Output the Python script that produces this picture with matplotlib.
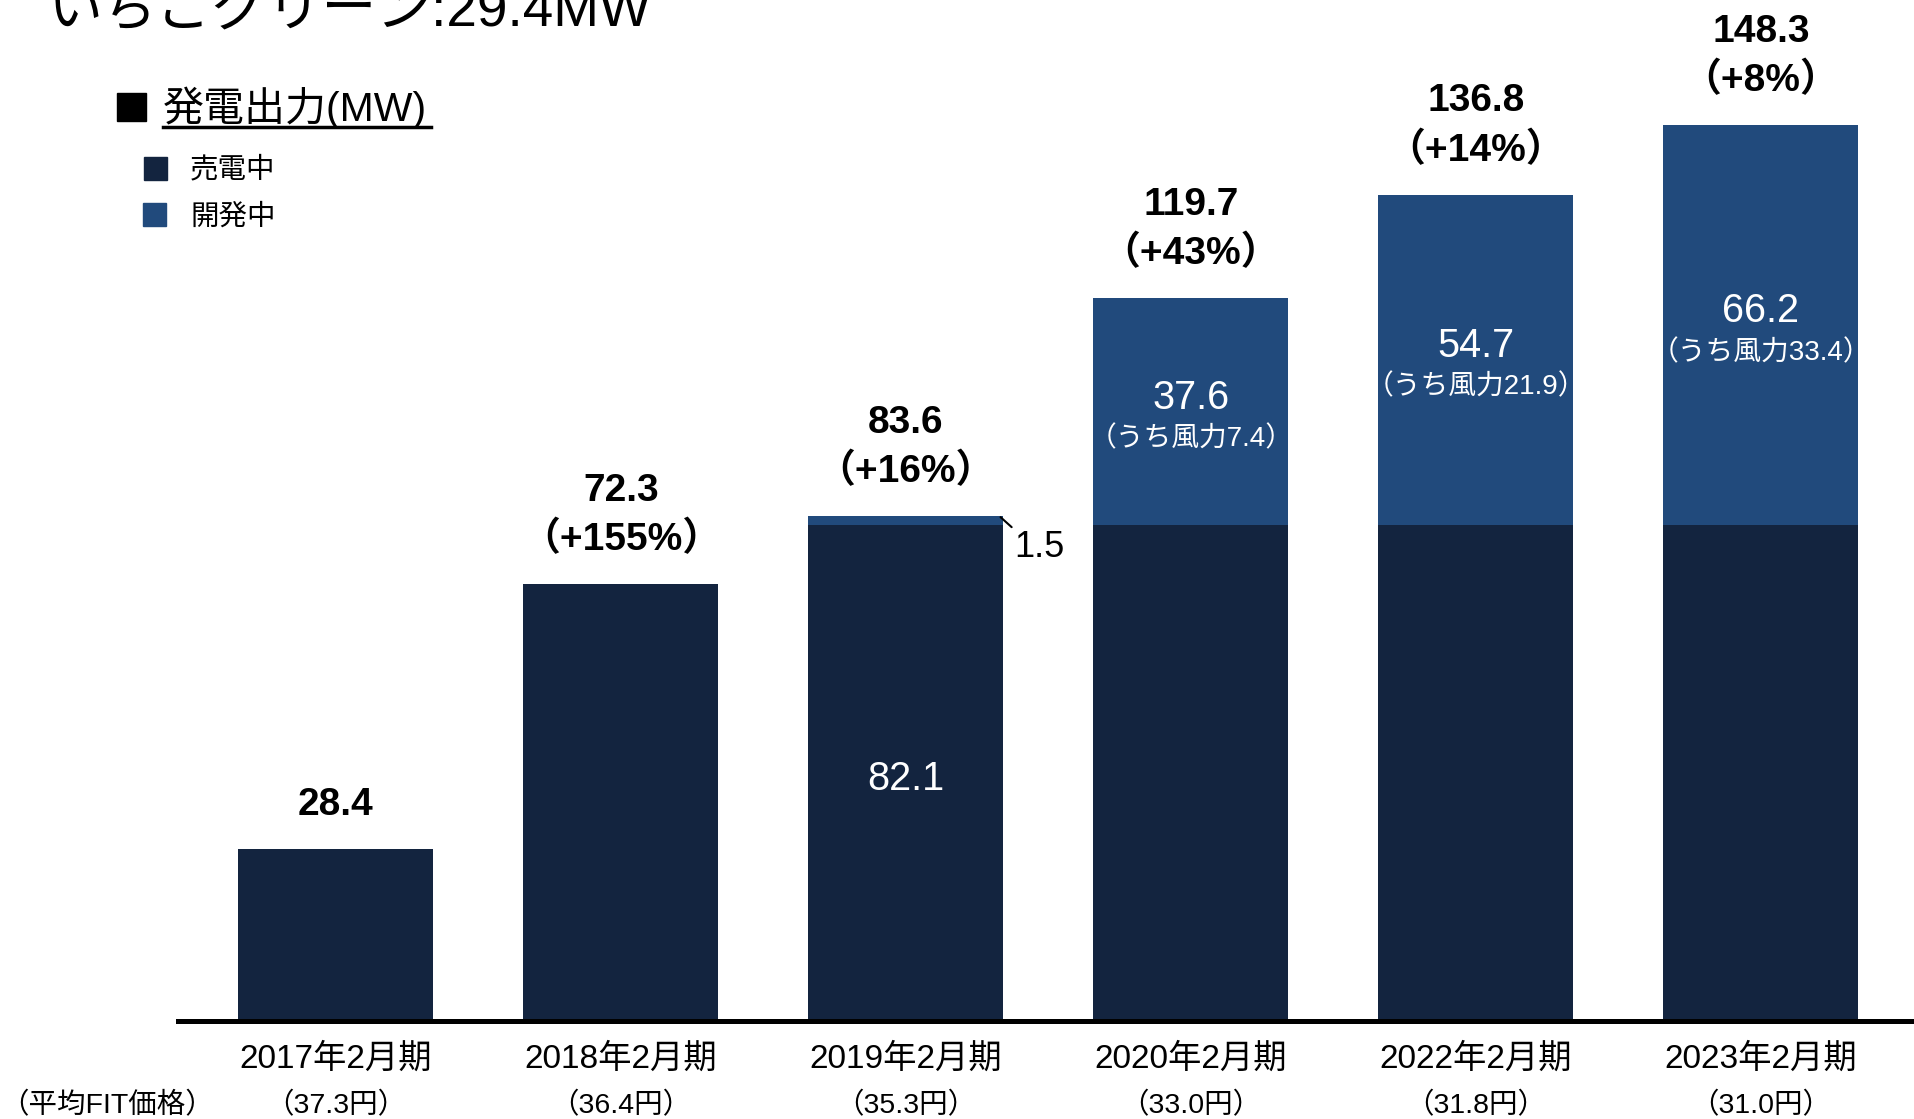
import numpy as np
import matplotlib
matplotlib.use("Agg")
import matplotlib.pyplot as plt
from matplotlib.patches import Rectangle
from matplotlib.lines import Line2D
from matplotlib.transforms import blended_transform_factory

plt.rcParams['font.family'] = ['Liberation Sans', 'Noto Sans CJK JP', 'DejaVu Sans']

# data
years = ["2017年2月期", "2018年2月期", "2019年2月期", "2020年2月期", "2022年2月期", "2023年2月期"]
fit_price = ["（37.3円）", "（36.4円）", "（35.3円）", "（33.0円）", "（31.8円）", "（31.0円）"]
selling = [28.4, 72.3, 82.1, 82.1, 82.1, 82.1]     # 売電中
developing = [0.0, 0.0, 1.5, 37.6, 54.7, 66.2]     # 開発中
totals = [28.4, 72.3, 83.6, 119.7, 136.8, 148.3]
growth = ["", "（+155%）", "（+16%）", "（+43%）", "（+14%）", "（+8%）"]
wind = ["", "", "", "（うち風力7.4）", "（うち風力21.9）", "（うち風力33.4）"]

DARK = "#13243F"
BLUE = "#214A7C"
W, H = 1914, 1119

fig = plt.figure(figsize=(W/100, H/100), dpi=100)
ax = fig.add_axes([178/W, 1-1021/H, 1-178/W, 1021/H])
x = np.arange(len(years))
bw = 0.684

ax.bar(x, selling, bw, color=DARK, zorder=2)
ax.bar(x, developing, bw, bottom=selling, color=BLUE, zorder=2)
ax.set_xlim(-0.554, 5.537)
ax.set_ylim(0, 169.0)
for s in ["top", "right", "left"]:
    ax.spines[s].set_visible(False)
ax.spines["bottom"].set_linewidth(3.6)
ax.spines["bottom"].set_zorder(3)
ax.set_yticks([])
ax.set_xticks([])

# totals + growth on top
for i in range(len(x)):
    if growth[i]:
        ax.annotate(f"{totals[i]:.1f}", (x[i], totals[i]), xytext=(0, 67), textcoords="offset points",
                    ha="center", va="center", fontsize=28, fontweight="bold")
        ax.annotate(growth[i], (x[i], totals[i]), xytext=(0, 32), textcoords="offset points",
                    ha="center", va="center", fontsize=28, fontweight="bold")
    else:
        ax.annotate(f"{totals[i]:.1f}", (x[i], totals[i]), xytext=(0, 32), textcoords="offset points",
                    ha="center", va="center", fontsize=28, fontweight="bold")

# inside labels
ax.annotate(f"{selling[2]:.1f}", (x[2], selling[2]/2), xytext=(0, -4), textcoords="offset points",
            ha="center", va="center", color="white", fontsize=28.5)
for i in range(3, 6):
    mid = selling[i] + developing[i]/2
    ax.annotate(f"{developing[i]:.1f}", (x[i], mid), xytext=(0, 10), textcoords="offset points",
                ha="center", va="center", color="white", fontsize=28.5)
    ax.annotate(wind[i], (x[i], mid), xytext=(0, -20), textcoords="offset points",
                ha="center", va="center", color="white", fontsize=20)

# small 1.5 label with leader line
ax.annotate(f"{developing[2]:.1f}", xy=(x[2] + bw/2 - 0.01, totals[2] - 0.2), xytext=(10, -9),
            textcoords="offset points", ha="left", va="top", fontsize=26,
            arrowprops=dict(arrowstyle="-", color="black", lw=1.5, shrinkA=0, shrinkB=0, relpos=(0, 1)))

# x labels
tr = blended_transform_factory(ax.transData, fig.transFigure)
for i in range(len(x)):
    ax.text(x[i], 1-1059/H, years[i], transform=tr, ha="center", va="center", fontsize=24)
    ax.text(x[i], 1-1106/H, fit_price[i], transform=tr, ha="center", va="center", fontsize=20.5)
fig.text(107/W, 1-1106/H, "（平均FIT価格）", ha="center", va="center", fontsize=20.5)

# title (cut at top)
fig.text(47/W, 1-25/H, "いちごグリーン:29.4MW", ha="left", va="baseline", fontsize=39.5)

# legend block
fig.patches.append(Rectangle((117/W, 1-121/H), 29/W, 28/H, transform=fig.transFigure, color="black"))
fig.text(163/W, 1-108/H, "発電出力(MW)", ha="left", va="center", fontsize=29.5)
fig.lines.append(Line2D([163/W, 431/W], [1-127/H, 1-127/H], transform=fig.transFigure, color="black", lw=2.5))
fig.patches.append(Rectangle((144/W, 1-180/H), 23/W, 23/H, transform=fig.transFigure, color=DARK))
fig.text(190/W, 1-170/H, "売電中", ha="left", va="center", fontsize=20.5)
fig.patches.append(Rectangle((143/W, 1-226/H), 23/W, 23/H, transform=fig.transFigure, color=BLUE))
fig.text(190/W, 1-217/H, "開発中", ha="left", va="center", fontsize=20.5)

fig.savefig("out.png", dpi=100)
